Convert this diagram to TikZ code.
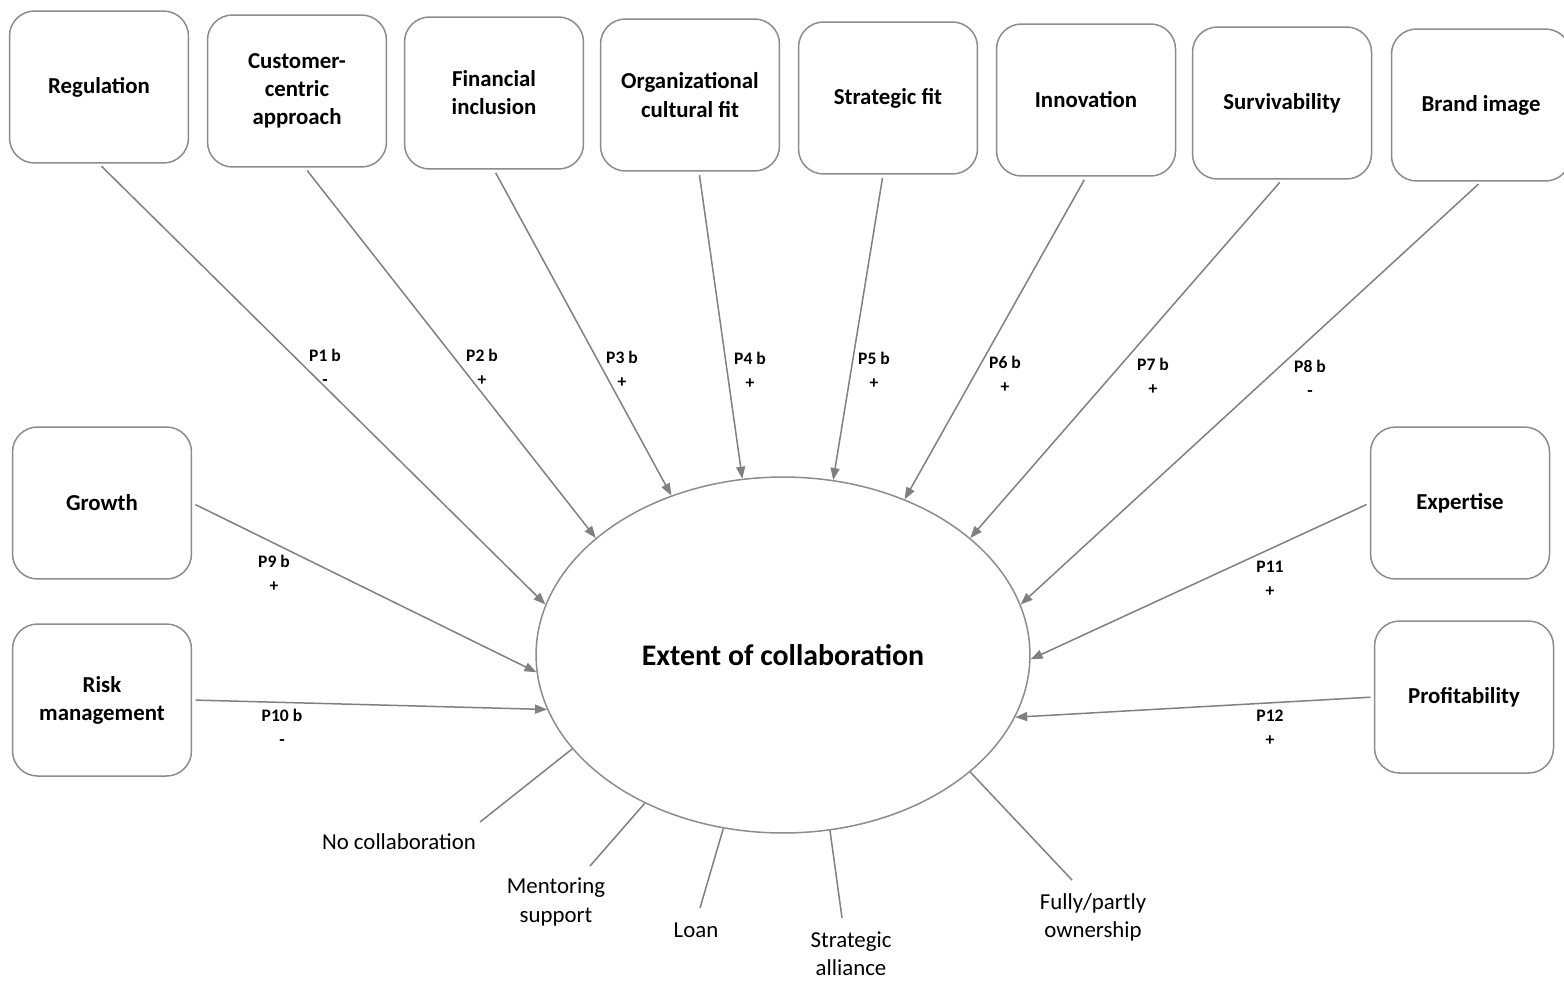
\documentclass[tikz,border=0pt]{standalone}
\usepackage{fontspec}
\setmainfont{Carlito}
\usetikzlibrary{arrows.meta}
\usetikzlibrary{shapes.geometric}

\begin{document}
\begin{tikzpicture}[x=0.02cm,y=-0.02cm,>={Triangle[length=0.24cm,width=0.18cm]},
    factor/.style={draw=gray!90,line width=0.03cm,rounded corners=0.5cm,minimum width=3.58cm,minimum height=3.04cm,align=center,font=\bfseries\fontsize{13}{16}\selectfont},
    link/.style={->,draw=gray,line width=0.03cm,shorten <=0.07cm},
    plabel/.style={align=center,font=\bfseries\fontsize{10}{13.5}\selectfont},
    kind/.style={align=center,font=\fontsize{13}{16}\selectfont},
    stub/.style={draw=gray,line width=0.03cm}]
                        \useasboundingbox (0,0) rectangle (1564,981);
                        % determinants
                        \node[factor] (reg) at (99,87) {Regulation};
                        \node[factor] (cust) at (297,91) {Customer-\\centric\\approach};
                        \node[factor] (fin) at (494,93) {Financial\\inclusion};
                        \node[factor] (org) at (690,95) {Organizational\\cultural fit};
                        \node[factor] (strat) at (888,98) {Strategic fit};
                        \node[factor] (inno) at (1086,100) {Innovation};
                        \node[factor] (surv) at (1282,103) {Survivability};
                        \node[factor] (brand) at (1481,105) {Brand image};
                        \node[factor] (grow) at (102,503) {Growth};
                        \node[factor] (risk) at (102,700) {Risk\\management};
                        \node[factor] (expert) at (1460,503) {Expertise};
                        \node[factor] (profit) at (1464,697) {Profitability};
                        \node[ellipse,draw=gray!90,line width=0.03cm,minimum width=9.88cm,minimum height=7.12cm,inner sep=0pt,
                            font=\bfseries\fontsize{17}{20}\selectfont] (ext) at (783,655) {Extent of collaboration};
                        % propositions
                        \draw[link] (reg.south) -- (ext.168);
                        \draw[link] ([xshift=0.16cm]cust.south) -- (ext.148);
                        \draw[link] (fin.south) -- (ext.125);
                        \draw[link] ([xshift=0.18cm]org.south) -- (ext.103);
                        \draw[link] ([xshift=-0.1cm]strat.south) -- (ext.74);
                        \draw[link] (inno.south) -- (ext.52);
                        \draw[link] (surv.south) -- (ext.32);
                        \draw[link] (brand.south) -- (ext.12);
                        \draw[link] (grow.east) -- (ext.184);
                        \draw[link] (risk.east) -- (ext.193);
                        \draw[link] (expert.west) -- (ext.359);
                        \draw[link] (profit.west) -- (ext.345);
                        \node[plabel] (p1) at (325,367) {P1 b\\-};
                        \node[plabel] (p2) at (482,367) {P2 b\\+};
                        \node[plabel] (p3) at (622,369) {P3 b\\+};
                        \node[plabel] (p4) at (750,370) {P4 b\\+};
                        \node[plabel] (p5) at (874,370) {P5 b\\+};
                        \node[plabel] (p6) at (1005,374) {P6 b\\+};
                        \node[plabel] (p7) at (1153,376) {P7 b\\+};
                        \node[plabel] (p8) at (1310,378) {P8 b\\-};
                        \node[plabel] (p9) at (274,573) {P9 b\\+};
                        \node[plabel] (p10) at (282,727) {P10 b\\-};
                        \node[plabel] (p11) at (1270,579) {P11\\+};
                        \node[plabel] (p12) at (1270,728) {P12\\+};
                        % forms of collaboration
                        \node[kind] (none) at (399,842) {No collaboration};
                        \node[kind] (mentor) at (556,902) {Mentoring\\support};
                        \node[kind] (loan) at (696,930) {Loan};
                        \node[kind] (alliance) at (851,954) {Strategic\\alliance};
                        \node[kind] (owner) at (1093,917) {Fully/partly\\ownership};
                        \coordinate (none end) at (480,822);
                        \coordinate (mentor end) at (590,866);
                        \coordinate (loan end) at (700,908);
                        \coordinate (alliance end) at (842,918);
                        \coordinate (owner end) at (1072,880);
                        \draw[stub] (ext.204) -- (none end);
                        \draw[stub] (ext.227) -- (mentor end);
                        \draw[stub] (ext.251) -- (loan end);
                        \draw[stub] (ext.285) -- (alliance end);
                        \draw[stub] (ext.328) -- (owner end);
                    \end{tikzpicture}
\end{document}
